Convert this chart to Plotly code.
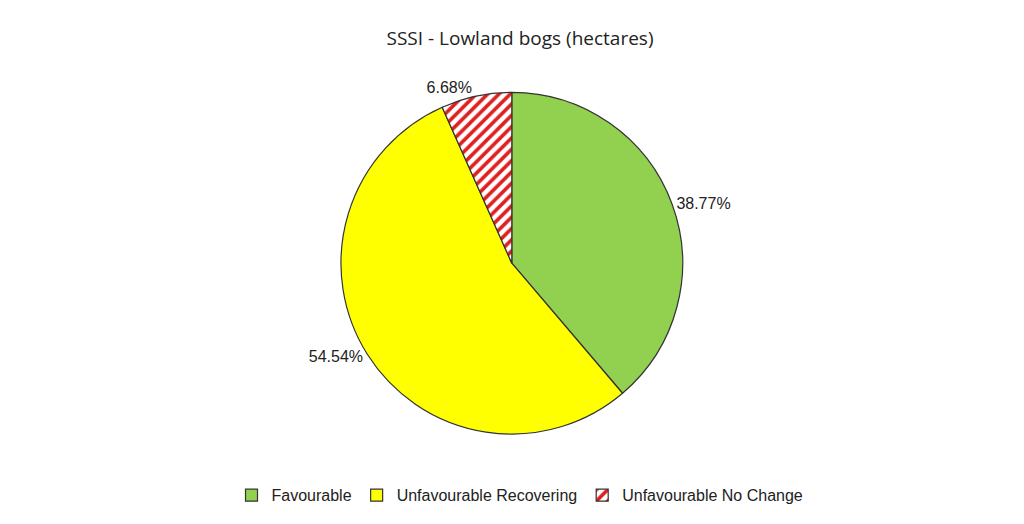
import plotly.graph_objects as go

categories = ["Favourable", "Unfavourable Recovering", "Unfavourable No Change"]
values = [38.77, 54.54, 6.68]
colors = ["#92d050", "#ffff00", "#ffffff"]

fig = go.Figure(go.Pie(
    labels=categories, values=values, sort=False, direction="clockwise", rotation=0,
    marker=dict(colors=colors, line=dict(color="#333333", width=1.2),
                pattern=dict(shape=["", "", "/"], fgcolor="#e02020", bgcolor="#ffffff",
                             size=8, solidity=0.45)),
    texttemplate="%{value:.2f}%", textposition="outside",
    textfont=dict(family="Liberation Sans, Arial", size=16, color="#222222"),
    domain=dict(x=[0.325, 0.659], y=[0.187, 0.839]),
    showlegend=True,
))
fig.update_traces(outsidetextfont=dict(family="Liberation Sans, Arial", size=16, color="#222222"))
fig.update_layout(
    width=1024, height=524, margin=dict(l=0, r=0, t=0, b=0),
    paper_bgcolor="white", plot_bgcolor="white",
    title=dict(text="SSSI - Lowland bogs (hectares)", x=0.5, y=0.943, xanchor="center", yanchor="middle",
               font=dict(family="Open Sans", size=19, color="#222222")),
    legend=dict(orientation="h", x=0.5, xanchor="center", y=0.07, yanchor="middle",
                font=dict(family="Liberation Sans, Arial", size=16, color="#222222"),
                traceorder="normal", itemwidth=30),
)
fig.write_html("out.html")
